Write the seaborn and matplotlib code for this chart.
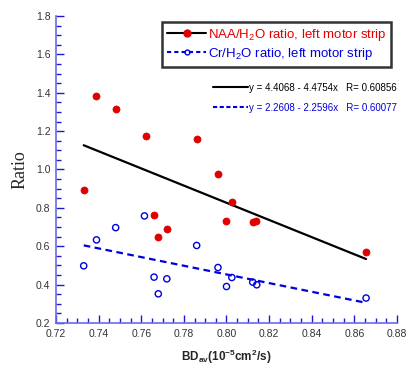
import numpy as np
import pandas as pd
import seaborn as sns
import matplotlib
matplotlib.use('Agg')
import matplotlib.pyplot as plt
from matplotlib.lines import Line2D
from matplotlib.ticker import MultipleLocator, FormatStrFormatter

# data
bd_naa = [0.733, 0.739, 0.748, 0.762, 0.766, 0.768, 0.772, 0.786, 0.796, 0.800, 0.8025, 0.8125, 0.814, 0.8655]
naa_ratio = [0.895, 1.385, 1.315, 1.175, 0.765, 0.648, 0.690, 1.160, 0.975, 0.730, 0.830, 0.725, 0.730, 0.572]
bd_cr = [0.733, 0.739, 0.748, 0.7615, 0.766, 0.768, 0.772, 0.786, 0.796, 0.800, 0.8025, 0.8123, 0.8142, 0.8655]
cr_ratio = [0.498, 0.633, 0.697, 0.758, 0.439, 0.352, 0.430, 0.604, 0.489, 0.390, 0.437, 0.413, 0.399, 0.330]

# linear fits as printed on the chart
naa_fit = [4.4068, -4.4754]
cr_fit = [2.2608, -2.2596]
naa_r = 0.60856
cr_r = 0.60077

sns.set_style('white')
plt.rcParams['font.family'] = ['Liberation Sans', 'DejaVu Sans']
plt.rcParams['mathtext.fontset'] = 'custom'
plt.rcParams['mathtext.rm'] = 'Liberation Sans'
plt.rcParams['mathtext.bf'] = 'Liberation Sans:bold'

fig = plt.figure(figsize=(4.07, 3.69), dpi=100)
ax = fig.add_axes([0.1376, 0.1247, 0.8378, 0.832])

naa = pd.DataFrame({'bd': bd_naa, 'ratio': naa_ratio})
cr = pd.DataFrame({'bd': bd_cr, 'ratio': cr_ratio})

# fit lines over the data range
xr = np.array([min(bd_naa), max(bd_naa)])
naa_line = pd.DataFrame({'bd': xr, 'ratio': naa_fit[0] + naa_fit[1] * xr})
xr2 = np.array([min(bd_cr), max(bd_cr)])
cr_line = pd.DataFrame({'bd': xr2, 'ratio': cr_fit[0] + cr_fit[1] * xr2})

sns.lineplot(data=naa_line, x='bd', y='ratio', color='black', linewidth=1.6, ax=ax)
sns.lineplot(data=cr_line, x='bd', y='ratio', color='#0000dd', linewidth=1.6, ax=ax,
             linestyle=(0, (3, 2)))

sns.scatterplot(data=naa, x='bd', y='ratio', color='#e00000', edgecolor='#e00000',
                s=26, linewidth=0.5, ax=ax, zorder=3)
sns.scatterplot(data=cr, x='bd', y='ratio', facecolor='none', edgecolor='#0000dd',
                s=20, linewidth=1.0, ax=ax, zorder=3)

ax.set_xlim(0.72, 0.88)
ax.set_ylim(0.2, 1.8)
ax.xaxis.set_major_locator(MultipleLocator(0.02))
ax.xaxis.set_minor_locator(MultipleLocator(0.005))
ax.yaxis.set_major_locator(MultipleLocator(0.2))
ax.yaxis.set_minor_locator(MultipleLocator(0.05))
ax.xaxis.set_major_formatter(FormatStrFormatter('%.2f'))
ax.yaxis.set_major_formatter(FormatStrFormatter('%.1f'))

for s in ['top', 'right']:
    ax.spines[s].set_visible(False)
for s in ['left', 'bottom']:
    ax.spines[s].set_color('#6a6aee')
    ax.spines[s].set_linewidth(1.2)
ax.tick_params(which='major', direction='in', length=5.5, width=1, color='#1a1ad0',
               labelsize=7.5, labelcolor='#333333', pad=4)
ax.tick_params(which='minor', direction='in', length=3.5, width=1, color='#1a1ad0')
ax.tick_params(axis='x', which='both', bottom=True)
ax.tick_params(axis='y', which='both', left=True)

ax.set_ylabel('Ratio', family='Liberation Serif', fontsize=13, labelpad=5)
ax.set_xlabel(r'BD$_{\mathbf{av}}$(10$^{\mathbf{-5}}$cm$^{\mathbf{2}}$/s)',
              fontweight='bold', fontsize=8.5, labelpad=7)

handles = [Line2D([], [], color='black', linewidth=1.5, marker='o', markersize=5,
                  markerfacecolor='#e00000', markeredgecolor='#e00000'),
           Line2D([], [], color='#0000dd', linewidth=1.5, linestyle=(0, (2, 1.5)), marker='o',
                  markersize=3.5, markerfacecolor='none', markeredgecolor='#0000dd')]
labels = [r'NAA/H$_2$O ratio, left motor strip', r'Cr/H$_2$O ratio, left motor strip']
leg = ax.legend(handles, labels, loc='upper right', bbox_to_anchor=(0.982, 0.98),
                borderaxespad=0, fontsize=9.5, frameon=True, fancybox=False,
                handlelength=3.0, handletextpad=0.1, borderpad=0.35, labelspacing=0.25)
leg.get_frame().set_edgecolor('black')
leg.get_frame().set_linewidth(1.8)
leg.get_texts()[0].set_color('#e00000')
leg.get_texts()[1].set_color('#0000dd')
ax.add_artist(leg)

fit_handles = [Line2D([], [], color='black', linewidth=1.5),
               Line2D([], [], color='#0000dd', linewidth=1.5, linestyle=(0, (2, 1.2)))]
fit_labels = ['y = %.4f - %.4fx   R= %.5f' % (naa_fit[0], -naa_fit[1], naa_r),
              'y = %.4f - %.4fx   R= %.5f' % (cr_fit[0], -cr_fit[1], cr_r)]
leg2 = ax.legend(fit_handles, fit_labels, loc='upper right', bbox_to_anchor=(1.01, 0.795),
                 borderaxespad=0, fontsize=7, frameon=False, handlelength=3.6,
                 handletextpad=0.1, labelspacing=1.0)
leg2.get_texts()[0].set_color('black')
leg2.get_texts()[1].set_color('#0000dd')

fig.savefig('out.png', dpi=100)
